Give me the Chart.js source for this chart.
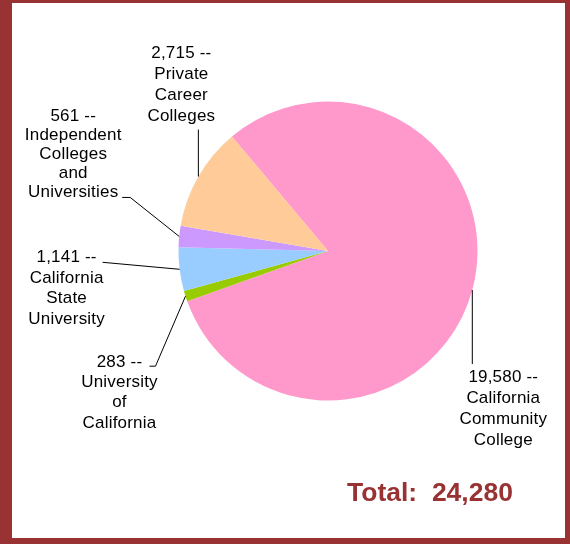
<!DOCTYPE html>
<html>
<head>
<meta charset="utf-8">
<script src="https://cdn.jsdelivr.net/npm/chart.js@4"></script>
<style>
  html, body { margin: 0; padding: 0; }
  body { width: 570px; height: 544px; background: #993333; position: relative; overflow: hidden; }
  #frame { position: absolute; left: 12px; top: 3px; width: 553px; height: 535px; background: #fff; }
  #chart { position: absolute; left: 0; top: 0; }
</style>
</head>
<body>
<div id="frame"></div>
<canvas id="chart" width="570" height="544"></canvas>
<script>
// --------------------
// Data
// --------------------
const categories = [
  "California Community College",
  "University of California",
  "California State University",
  "Independent Colleges and Universities",
  "Private Career Colleges"
];
const enrollment = [19580, 283, 1141, 561, 2715];
const sliceColors = ["#FF99CC", "#99CC00", "#99CCFF", "#CC99FF", "#FFCC99"];
const labelLines = [
  ["19,580 --", "California", "Community", "College"],
  ["283 --", "University", "of", "California"],
  ["1,141 --", "California", "State", "University"],
  ["561 --", "Independent", "Colleges", "and", "Universities"],
  ["2,715 --", "Private", "Career", "Colleges"]
];
const totalText = "Total:  24,280";

// label placement, relative to the point on the rim at each slice's middle angle
const labelLayout = [
  { path: [[0, 74]], dx: 31, dy: 87, gap: 21 },
  { path: [[-30, 70], [-36, 70]], dx: -66, dy: 66, gap: 20.3 },
  { path: [[-77, -7]], dx: -113, dy: -12, gap: 20.7 },
  { path: [[-49, -39], [-57, -39]], dx: -106, dy: -120, gap: 19 },
  { path: [[0, -47]], dx: -17, dy: -123, gap: 21 }
];

// --------------------
// Callout plugin
// --------------------
const callouts = {
  id: "callouts",
  afterDatasetsDraw(chart) {
    const ctx = chart.ctx;
    const arcs = chart.getDatasetMeta(0).data;
    ctx.save();
    ctx.strokeStyle = "#000";
    ctx.lineWidth = 1;
    ctx.fillStyle = "#000";
    ctx.font = "17px 'Liberation Sans', Arial, sans-serif";
    ctx.letterSpacing = "0.2px";
    ctx.textAlign = "center";
    ctx.textBaseline = "middle";

    arcs.forEach((arc, i) => {
      const p = arc.getProps(["x", "y", "startAngle", "endAngle", "outerRadius"], true);
      const mid = (p.startAngle + p.endAngle) / 2;
      const ax = p.x + Math.cos(mid) * p.outerRadius;
      const ay = p.y + Math.sin(mid) * p.outerRadius;
      const lay = labelLayout[i];

      ctx.beginPath();
      ctx.moveTo(ax, ay);
      lay.path.forEach(([dx, dy]) => ctx.lineTo(ax + dx, ay + dy));
      ctx.stroke();

      labelLines[i].forEach((line, k) => {
        ctx.fillText(line, ax + lay.dx, ay + lay.dy + k * lay.gap);
      });
    });

    // total
    ctx.fillStyle = "#993333";
    ctx.font = "bold 26.5px 'Liberation Sans', Arial, sans-serif";
    ctx.letterSpacing = "0px";
    ctx.textAlign = "left";
    ctx.fillText(totalText, 347, 494);
    ctx.restore();
  }
};

// --------------------
// Chart
// --------------------
new Chart(document.getElementById("chart"), {
  type: "pie",
  data: {
    labels: categories,
    datasets: [{
      data: enrollment,
      backgroundColor: sliceColors,
      borderWidth: 0
    }]
  },
  options: {
    responsive: false,
    animation: false,
    rotation: -40,
    layout: {
      padding: { left: 178.5, right: 92.5, top: 101.5, bottom: 143.5 }
    },
    plugins: {
      legend: { display: false },
      tooltip: { enabled: false }
    }
  },
  plugins: [callouts]
});
</script>
</body>
</html>
